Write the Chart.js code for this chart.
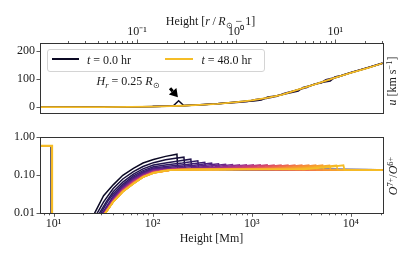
<!DOCTYPE html>
<html><head><meta charset="utf-8">
<script src="https://cdn.jsdelivr.net/npm/chart.js@4/dist/chart.umd.min.js"></script>
<style>
body{margin:0;width:415px;height:260px;position:relative;background:#fff;overflow:hidden}
canvas{position:absolute;left:0}
.lbl{position:absolute;font:12px 'Liberation Serif',serif;color:#1a1a1a;white-space:nowrap;line-height:12px}
.lbl sub{font-size:70%;vertical-align:-0.3em;line-height:0}
.lbl sup{font-size:70%;vertical-align:0.5em;line-height:0}
.rot{transform:translate(-50%,-50%) rotate(-90deg)}
.legend{position:absolute;left:47px;top:49px;width:216px;height:21px;border:1px solid #d4d4d4;border-radius:3px;background:rgba(255,255,255,0.8)}
.swatch{position:absolute;height:2px}
</style></head>
<body>
<canvas id="cTop" width="415" height="125" style="top:0"></canvas>
<canvas id="cBot" width="415" height="135" style="top:125px"></canvas>

<div class="lbl" style="left:210.5px;top:14.5px;transform:translateX(-50%)">Height [<i>r</i>&thinsp;/&thinsp;<i>R</i><sub>⊙</sub>&nbsp;−&nbsp;1]</div>
<div class="lbl" style="left:211.5px;top:232px;transform:translateX(-50%)">Height [Mm]</div>
<div class="lbl rot" style="left:392px;top:81px;position:absolute"><i>u</i> [km s<sup>−1</sup>]</div>
<div class="lbl rot" style="left:393px;top:176px;position:absolute"><i>O</i><sup>7+</sup>/<i>O</i><sup>6+</sup></div>
<div class="legend"></div>
<div class="swatch" id="sw0" style="left:52px;top:58px;width:27px"></div>
<div class="lbl" style="left:87px;top:53.5px"><i>t</i> = 0.0 hr</div>
<div class="swatch" id="sw1" style="left:165px;top:58px;width:28px"></div>
<div class="lbl" style="left:201.5px;top:53.5px"><i>t</i> = 48.0 hr</div>
<div class="lbl" style="left:96.5px;top:75px"><i>H</i><sub><i>r</i></sub> = 0.25 <i>R</i><sub>⊙</sub></div>

<script>
// ---------- data ----------
const X_MIN = 7.3, X_MAX = 21000;          // height range [Mm]
const R_SUN = 696;                          // Mm, for the top axis r/R - 1
const bottomTicks = [10, 100, 1000, 10000];
const topTicks = [0.1, 1, 10];
const uTicks = [0, 100, 200];
const ratioTicks = [0.01, 0.1, 1];
const times = [0,2,4,6,8,10,12,14,16,18,20,22,24,26,28,30,32,34,36,38,40,42,44,46,48]; // hr

// top panel: u [km/s] vs height [Mm]
const u_t00 = [[7.3,0],[30,0.3],[60,1],[100,2],[140,3.5],[162,5],[183,23],[206,6],[300,8],[450,12],[700,18],[1000,24],[1430,33],[2000,44],[3100,65],[4500,83],[6730,103],[10000,122],[15000,140],[21000,156]];
const u_t02 = [[7.3,0],[100,2],[200,5],[450,12],[800,19.5],[1050,22],[1250,25],[1450,36],[1750,40],[2100,46],[2600,53],[2950,57],[3300,70],[3900,76],[4600,84],[5600,90],[6200,93],[6900,107],[8000,113],[10000,123],[15000,141],[21000,157]];
const u_t04 = [[7.3,0],[100,2],[200,5],[450,12],[700,17],[900,20],[1100,27.5],[1400,31],[1800,39],[2150,50],[2700,58],[3600,70],[4200,81],[5000,86],[5600,98],[7500,108],[10000,122],[21000,156]];
const u_t48 = [[7.3,0],[30,0.3],[60,1],[100,2],[150,3.5],[200,5],[300,8],[450,12],[700,18],[1000,24],[1430,33],[2000,44],[3100,65],[4500,83],[6730,103],[10000,122],[15000,140],[21000,156]];

// bottom panel: O7+/O6+ vs height [Mm]
const coreStepT0 = [[7.3,0.6],[9.45,0.6],[9.45,0.001]];
const coreStep = [[7.3,0.6],[9.7,0.6],[9.7,0.001]];
const ratio_t00 = [[25.9,0.01],[32,0.029],[40,0.056],[50,0.1],[64,0.153],[80,0.21],[102,0.26],[135,0.315],[176,0.36],[179,0.152],[300,0.149],[1000,0.146],[5000,0.142],[21000,0.14]];
const ratio_t02 = [[27.5,0.01],[32,0.02],[40,0.045],[50,0.08],[64,0.125],[80,0.17],[102,0.215],[135,0.255],[170,0.28],[207,0.30],[212,0.15],[400,0.147],[2000,0.143],[21000,0.14]];
const ratio_t04 = [[29,0.01],[34,0.02],[40,0.037],[50,0.066],[64,0.108],[80,0.148],[102,0.187],[140,0.215],[190,0.24],[243,0.265],[249,0.148],[600,0.145],[3000,0.142],[21000,0.139]];
const ratio_t06 = [[30,0.01],[35,0.02],[40,0.032],[50,0.058],[64,0.097],[80,0.133],[102,0.168],[140,0.19],[200,0.21],[286,0.24],[293,0.146],[800,0.144],[4000,0.141],[21000,0.139]];
const ratio_t08 = [[31,0.01],[40,0.028],[50,0.053],[64,0.088],[80,0.122],[102,0.155],[150,0.175],[220,0.192],[336,0.22],[344,0.145],[1000,0.143],[21000,0.139]];
const ratio_t10 = [[31.5,0.01],[40,0.026],[50,0.05],[64,0.083],[80,0.115],[102,0.148],[160,0.165],[263,0.185],[394,0.21],[404,0.143],[21000,0.138]];
const ratio_t12 = [[31.8,0.01],[40,0.025],[50,0.048],[64,0.08],[80,0.11],[102,0.143],[185,0.158],[309,0.178],[463,0.20],[475,0.142],[21000,0.138]];
const ratio_t14 = [[32,0.01],[40,0.024],[50,0.046],[64,0.077],[80,0.106],[102,0.138],[160,0.15],[218,0.152],[363,0.172],[545,0.195],[559,0.142],[21000,0.138]];
const ratio_t16 = [[32.2,0.01],[40,0.023],[50,0.044],[64,0.074],[80,0.102],[102,0.134],[160,0.147],[256,0.15],[427,0.167],[640,0.192],[656,0.141],[21000,0.138]];
const ratio_t18 = [[32.4,0.01],[40,0.0225],[50,0.043],[64,0.072],[80,0.1],[102,0.131],[160,0.146],[301,0.149],[501,0.166],[752,0.19],[771,0.141],[21000,0.138]];
const ratio_t20 = [[32.6,0.01],[40,0.022],[50,0.042],[64,0.07],[80,0.098],[102,0.128],[160,0.145],[353,0.149],[589,0.166],[883,0.19],[905,0.141],[21000,0.138]];
const ratio_t22 = [[32.7,0.01],[40,0.0215],[50,0.041],[64,0.068],[80,0.096],[102,0.126],[160,0.144],[415,0.148],[692,0.165],[1038,0.189],[1064,0.141],[21000,0.138]];
const ratio_t24 = [[32.8,0.01],[40,0.021],[50,0.04],[64,0.067],[80,0.095],[102,0.124],[160,0.143],[488,0.148],[813,0.165],[1219,0.188],[1249,0.141],[21000,0.138]];
const ratio_t26 = [[32.9,0.01],[40,0.021],[50,0.04],[64,0.066],[80,0.094],[102,0.122],[160,0.142],[573,0.148],[955,0.165],[1432,0.188],[1468,0.141],[21000,0.138]];
const ratio_t28 = [[33,0.01],[40,0.0205],[50,0.039],[64,0.065],[80,0.093],[102,0.121],[160,0.141],[673,0.147],[1122,0.164],[1683,0.187],[1725,0.14],[21000,0.137]];
const ratio_t30 = [[33,0.01],[40,0.0205],[50,0.039],[64,0.064],[80,0.092],[102,0.12],[160,0.141],[791,0.147],[1318,0.164],[1977,0.187],[2026,0.14],[21000,0.137]];
const ratio_t32 = [[33.1,0.01],[40,0.0205],[50,0.038],[64,0.063],[80,0.092],[102,0.119],[160,0.14],[929,0.147],[1549,0.164],[2323,0.186],[2381,0.14],[21000,0.137]];
const ratio_t34 = [[33.1,0.01],[40,0.0202],[50,0.038],[64,0.062],[80,0.091],[102,0.118],[160,0.14],[1092,0.147],[1819,0.163],[2729,0.186],[2797,0.14],[21000,0.137]];
const ratio_t36 = [[33.2,0.01],[40,0.0202],[50,0.038],[64,0.062],[80,0.091],[102,0.117],[160,0.14],[1282,0.146],[2137,0.163],[3206,0.186],[3286,0.14],[21000,0.137]];
const ratio_t38 = [[33.2,0.01],[40,0.02],[50,0.037],[64,0.061],[80,0.09],[102,0.116],[160,0.139],[1507,0.146],[2511,0.163],[3767,0.185],[3861,0.14],[21000,0.137]];
const ratio_t40 = [[33.2,0.01],[40,0.02],[50,0.037],[64,0.061],[80,0.09],[102,0.116],[160,0.139],[1770,0.146],[2951,0.163],[4426,0.185],[4537,0.14],[21000,0.137]];
const ratio_t42 = [[33.3,0.01],[40,0.02],[50,0.037],[64,0.06],[80,0.09],[102,0.115],[160,0.139],[2080,0.146],[3467,0.162],[5200,0.185],[5330,0.14],[21000,0.137]];
const ratio_t44 = [[33.3,0.01],[40,0.02],[50,0.037],[64,0.06],[80,0.09],[102,0.115],[160,0.139],[2444,0.145],[4073,0.162],[6109,0.184],[6262,0.14],[21000,0.137]];
const ratio_t46 = [[33.3,0.01],[40,0.02],[50,0.037],[64,0.06],[80,0.09],[102,0.115],[160,0.139],[2871,0.145],[4785,0.162],[7178,0.184],[7357,0.14],[21000,0.137]];
const ratio_t48 = [[33.3,0.01],[40,0.02],[50,0.037],[64,0.06],[80,0.09],[102,0.115],[130,0.132],[160,0.139],[250,0.142],[3373,0.144],[5622,0.161],[8433,0.183],[8644,0.139],[21000,0.137]];

// annotation (data coordinates: height [Mm], u [km/s])
const arrowFrom = [150, 67], arrowTo = [180, 35];

// ---------- styling / construction ----------
const ratioSeries = [ratio_t00,ratio_t02,ratio_t04,ratio_t06,ratio_t08,ratio_t10,ratio_t12,ratio_t14,ratio_t16,ratio_t18,ratio_t20,ratio_t22,ratio_t24,ratio_t26,ratio_t28,ratio_t30,ratio_t32,ratio_t34,ratio_t36,ratio_t38,ratio_t40,ratio_t42,ratio_t44,ratio_t46,ratio_t48];
const CMAP = ['#0b0924','#2b1a5e','#4c2183','#7a2a8c','#a9348a','#d0436f','#ea6156','#f5843e','#f7a12e','#f5bd26'];
function hex(c){return [1,3,5].map(k=>parseInt(c.substr(k,2),16));}
function cmap(t){
  const n=CMAP.length-1, p=Math.min(n,Math.max(0,t*n)), k=Math.min(n-1,Math.floor(p)), f=p-k;
  const a=hex(CMAP[k]), b=hex(CMAP[k+1]);
  return 'rgb('+a.map((v,j)=>Math.round(v+(b[j]-v)*f)).join(',')+')';
}
const N = times.length;
const colorFor = i => cmap(i/(N-1));
document.getElementById('sw0').style.backgroundColor = colorFor(0);
document.getElementById('sw1').style.backgroundColor = colorFor(N-1);

const pts = arr => arr.map(([x,y]) => ({x, y}));
const FONT = {family:"'Liberation Serif', serif", size:12};
const SUP = {'0':'⁰','1':'¹','2':'²','3':'³','4':'⁴','-':'⁻'};
const powLabel = v => { const e=Math.round(Math.log10(v)); return '10'+String(e).split('').map(c=>SUP[c]).join(''); };
const AX = '#333';

function tickMarks(chart, scaleId, side, values, majorFn){
  const s = chart.scales[scaleId], ca = chart.chartArea, ctx = chart.ctx;
  ctx.save(); ctx.strokeStyle = AX; ctx.lineWidth = 0.8;
  values.forEach(v=>{
    const len = majorFn(v) ? 3.5 : 2;
    ctx.beginPath();
    if(side==='bottom'||side==='top'){
      const p = Math.round(s.getPixelForValue(v))+0.5;
      if(p < ca.left-0.5 || p > ca.right+0.5) return;
      const y0 = side==='bottom'? ca.bottom : ca.top;
      ctx.moveTo(p,y0); ctx.lineTo(p, side==='bottom'? y0+len : y0-len);
    } else {
      const p = Math.round(s.getPixelForValue(v))+0.5;
      ctx.moveTo(ca.left,p); ctx.lineTo(ca.left-len,p);
    }
    ctx.stroke();
  });
  ctx.restore();
}
function logMinor(lo, hi){
  const out=[];
  for(let e=Math.floor(Math.log10(lo)); e<=Math.ceil(Math.log10(hi)); e++)
    for(let m=1;m<=9;m++){ const v=m*Math.pow(10,e); if(v>=lo*0.999 && v<=hi*1.001) out.push(v); }
  return out;
}
const isPow = v => Math.abs(Math.log10(v)-Math.round(Math.log10(v)))<1e-6;

const framePlugin = {
  id:'frame',
  afterDraw(chart){
    const ca = chart.chartArea, ctx = chart.ctx;
    ctx.save(); ctx.strokeStyle = AX; ctx.lineWidth = 1;
    ctx.strokeRect(Math.round(ca.left)+0.5, Math.round(ca.top)+0.5, Math.round(ca.right-ca.left), Math.round(ca.bottom-ca.top));
    ctx.restore();
    const o = chart.options.plugins.frame || {};
    if(o.top) tickMarks(chart,'xTop','top',logMinor(X_MIN/R_SUN, X_MAX/R_SUN),isPow);
    if(o.bottom) tickMarks(chart,'x','bottom',logMinor(X_MIN, X_MAX),isPow);
    if(o.left) tickMarks(chart,'y','left',o.left,()=>true);
    if(o.arrow){
      const sx = chart.scales.x, sy = chart.scales.y;
      const x0=sx.getPixelForValue(arrowFrom[0]), y0=sy.getPixelForValue(arrowFrom[1]);
      const x1=sx.getPixelForValue(arrowTo[0]), y1=sy.getPixelForValue(arrowTo[1]);
      const ang=Math.atan2(y1-y0,x1-x0), hl=8, hw=5;
      const bx=x1-hl*Math.cos(ang), by=y1-hl*Math.sin(ang);
      ctx.save(); ctx.strokeStyle='#000'; ctx.fillStyle='#000'; ctx.lineWidth=3;
      ctx.beginPath(); ctx.moveTo(x0,y0); ctx.lineTo(bx,by); ctx.stroke();
      ctx.beginPath(); ctx.moveTo(x1,y1);
      ctx.lineTo(bx+hw*Math.sin(ang), by-hw*Math.cos(ang));
      ctx.lineTo(bx-hw*Math.sin(ang), by+hw*Math.cos(ang));
      ctx.closePath(); ctx.fill(); ctx.restore();
    }
  }
};

// Chart.js draws lower `order` on top: later times get lower order so t = 48 hr is on top
const lineDs = (arr, i, w) => ({data: pts(arr), borderColor: colorFor(i), borderWidth: w || 1.5, pointRadius: 0, tension: 0, order: N-1-i, spanGaps:false});

// ---- top chart ----
new Chart(document.getElementById('cTop'), {
  type:'line',
  data:{datasets:[lineDs(u_t00,0), lineDs(u_t02,1), lineDs(u_t04,2), lineDs(u_t48,N-1,1.8)]},
  options:{
    responsive:false, animation:false, devicePixelRatio:1,
    layout:{padding:{left:0,right:32.3,top:0,bottom:6}},
    plugins:{legend:{display:false},tooltip:{enabled:false}, frame:{top:true,left:uTicks,arrow:true}},
    scales:{
      x:{type:'logarithmic',min:X_MIN,max:X_MAX,display:false},
      xTop:{type:'logarithmic',position:'top',min:X_MIN/R_SUN,max:X_MAX/R_SUN,
        grid:{display:false,drawTicks:false},border:{display:false},
        ticks:{font:FONT,color:'#1a1a1a',padding:4,autoSkip:false,maxRotation:0,callback:v=>powLabel(v)},
        afterBuildTicks:s=>{s.ticks=topTicks.map(v=>({value:v}));},
        afterFit:s=>{s.height=43;}},
      y:{type:'linear',position:'left',min:-20,max:228,
        grid:{display:false,drawTicks:false},border:{display:false},
        ticks:{font:FONT,color:'#1a1a1a',padding:5,callback:v=>String(v)},
        afterBuildTicks:s=>{s.ticks=uTicks.map(v=>({value:v}));},
        afterFit:s=>{s.width=40;}}
    }
  },
  plugins:[framePlugin]
});

// ---- bottom chart ----
new Chart(document.getElementById('cBot'), {
  type:'line',
  data:{datasets: ratioSeries.map((arr,i)=>lineDs([...(i===0?coreStepT0:coreStep),[15,null],...arr], i, i===N-1?1.8:1.5))},
  options:{
    responsive:false, animation:false, devicePixelRatio:1,
    layout:{padding:{left:0,right:32.3,top:12.3,bottom:0}},
    plugins:{legend:{display:false},tooltip:{enabled:false}, frame:{bottom:true,left:ratioTicks}},
    scales:{
      x:{type:'logarithmic',position:'bottom',min:X_MIN,max:X_MAX,
        grid:{display:false,drawTicks:false},border:{display:false},
        ticks:{font:FONT,color:'#1a1a1a',padding:3,autoSkip:false,maxRotation:0,callback:v=>powLabel(v)},
        afterBuildTicks:s=>{s.ticks=bottomTicks.map(v=>({value:v}));},
        afterFit:s=>{s.height=46.7;}},
      y:{type:'logarithmic',position:'left',min:0.01,max:1,
        grid:{display:false,drawTicks:false},border:{display:false},
        ticks:{font:FONT,color:'#1a1a1a',padding:5,callback:v=>Number(v).toFixed(2)},
        afterBuildTicks:s=>{s.ticks=ratioTicks.map(v=>({value:v}));},
        afterFit:s=>{s.width=40;}}
    }
  },
  plugins:[framePlugin]
});
</script>
</body></html>
